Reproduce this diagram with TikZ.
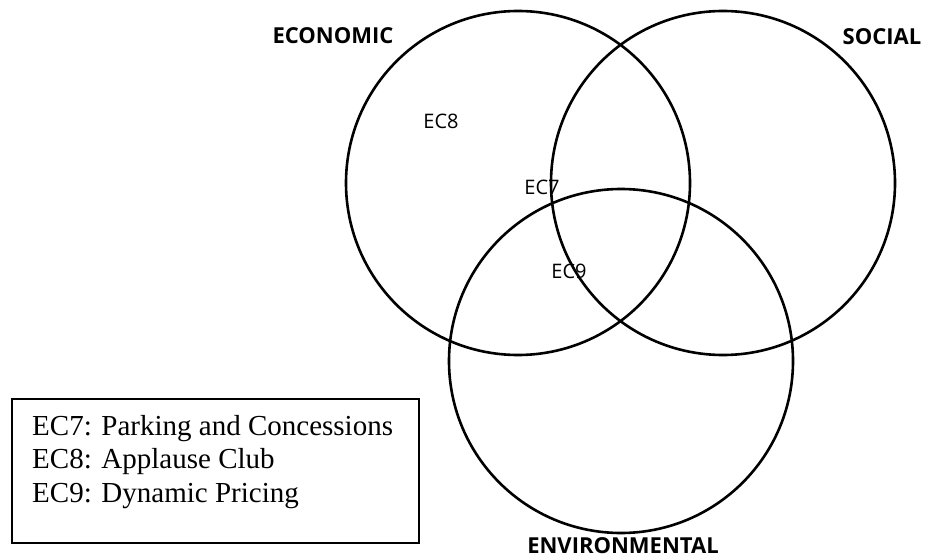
\documentclass[tikz,border=0pt]{standalone}
\usepackage{fontspec}
\setmainfont{Liberation Serif}
\newfontfamily\etiqfont{Open Sans}
\usepackage{tikz}

\begin{document}
\begin{tikzpicture}[x=1pt, y=-1pt,
    conjunto/.style={draw, circle, line width=2.6pt, minimum size=344pt, inner sep=0pt},
    titulo/.style={font=\etiqfont\bfseries\fontsize{22}{26}\selectfont, inner sep=0pt},
    codigo/.style={font=\etiqfont\fontsize{20}{24}\selectfont, inner sep=0pt}]
    \useasboundingbox (0,0) rectangle (927,559);

    % Conjuntos del diagrama de Venn
    \node[conjunto] (econ) at (518,183) {};
    \node[conjunto] (soc) at (723,183) {};
    \node[conjunto] (amb) at (621,361) {};

    % Titulos de cada conjunto
    \node[titulo] (tecon) at (333,36) {ECONOMIC};
    \node[titulo] (tsoc) at (882,36.5) {SOCIAL};
    \node[titulo] (tamb) at (623,546) {ENVIRONMENTAL};

    % Codigos dentro de las regiones
    \node[codigo] (ec8) at (441,121) {EC8};
    \node[codigo] (ec7) at (542,187) {EC7};
    \node[codigo] (ec9) at (569,271) {EC9};

    % Leyenda
    \node[draw, line width=2pt, anchor=north west, minimum width=407pt,
          minimum height=144pt, inner sep=0pt] (leyenda) at (11,398) {};
    \node[anchor=base west, inner sep=0pt, align=left,
          font=\fontsize{29}{33.5}\selectfont] (textoley) at (32,502)
        {EC7: Parking and Concessions\\EC8: Applause Club\\EC9: Dynamic Pricing};

\end{tikzpicture}
\end{document}
